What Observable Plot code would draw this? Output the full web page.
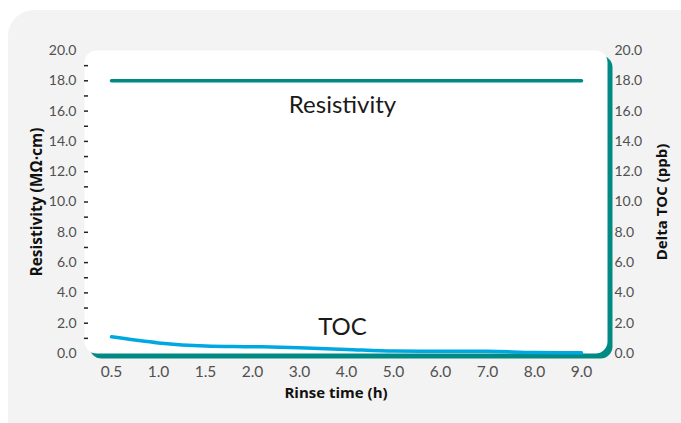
<!DOCTYPE html>
<html>
<head>
<meta charset="utf-8">
<script src="https://cdn.jsdelivr.net/npm/d3@7"></script>
<script src="https://cdn.jsdelivr.net/npm/@observablehq/plot@0.6"></script>
<style>
  html, body { margin: 0; padding: 0; background: #ffffff; }
  #wrap { position: relative; width: 681px; height: 423px; overflow: hidden; }
  #bg { position: absolute; left: 8px; top: 10px; width: 700px; height: 440px; border-radius: 26px; background: #f3f3f3; }
  #chart { position: absolute; left: 0; top: 0; }
</style>
</head>
<body>
<div id="wrap"><div id="bg"></div><div id="chart"></div></div>
<script>
// Data
const times = ["0.5","1.0","1.5","2.0","3.0","4.0","5.0","6.0","7.0","8.0","9.0"];
const resistivity = [18, 18, 18, 18, 18, 18, 18, 18, 18, 18, 18];
const toc = [1.1, 0.7, 0.5, 0.45, 0.38, 0.27, 0.16, 0.15, 0.15, 0.06, 0.05];
const yTicks = [0, 2, 4, 6, 8, 10, 12, 14, 16, 18, 20];
const yMinorTicks = [1, 2, 3, 4, 5, 6, 7, 8, 9, 10, 11, 12, 13, 14, 15, 16, 17, 18, 19];
const seriesLabels = [
  {name: "Resistivity", x: "4.0", y: 16.35},
  {name: "TOC", x: "4.0", y: 1.7}
];
const xTitle = "Rinse time (h)";
const yTitle = "Resistivity (MΩ·cm)";
const y2Title = "Delta TOC (ppb)";

const rows = times.map((t, i) => ({t, r: resistivity[i], c: toc[i]}));

const teal = "#008a83";
const blue = "#00a8e2";
const tickFont = "Lato, 'Open Sans', sans-serif";
const titleFont = "'Open Sans', sans-serif";

const chart = Plot.plot({
  width: 681,
  height: 423,
  marginLeft: 84,
  marginRight: 74,
  marginTop: 50,
  marginBottom: 70,
  style: {background: "transparent", overflow: "visible"},
  x: {type: "point", domain: times, padding: 0.5},
  y: {domain: [0, 20]},
  marks: [
    Plot.frame({fill: teal, stroke: null, rx: 12, dx: 5, dy: 5}),
    Plot.frame({fill: "white", stroke: null, rx: 12}),
    Plot.axisY({anchor: "left", ticks: yMinorTicks, tickSize: 4, dx: 4, tickFormat: () => "", label: null, stroke: "#222", strokeWidth: 1.5}),
    Plot.axisY({anchor: "left", ticks: yTicks, tickSize: 0, tickPadding: 8, tickFormat: d => d.toFixed(1), label: null,
      fontSize: 14, fontFamily: tickFont, fill: "#505050"}),
    Plot.axisY({anchor: "right", ticks: yTicks, tickSize: 0, tickPadding: 7, tickFormat: d => d.toFixed(1), label: null,
      fontSize: 14, fontFamily: tickFont, fill: "#505050"}),
    Plot.axisX({anchor: "bottom", tickSize: 0, tickPadding: 12, label: null,
      fontSize: 15.5, fontFamily: tickFont, fill: "#505050"}),
    Plot.line(rows, {x: "t", y: "r", stroke: teal, strokeWidth: 3.5}),
    Plot.line(rows, {x: "t", y: "c", stroke: blue, strokeWidth: 3.5, curve: "monotone-x"}),
    Plot.text(seriesLabels, {x: "x", y: "y", text: "name", dx: -4, fontSize: 24, fontFamily: tickFont, fill: "#1a1a1a"}),
    Plot.text([yTitle], {frameAnchor: "left", textAnchor: "middle", dx: -47, rotate: -90, fontSize: 15.5, fontWeight: "bold", fontFamily: titleFont, fill: "#111"}),
    Plot.text([y2Title], {frameAnchor: "right", textAnchor: "middle", dx: 55, rotate: -90, fontSize: 15, fontWeight: "bold", fontFamily: titleFont, fill: "#111"}),
    Plot.text([xTitle], {frameAnchor: "bottom", dy: 44, dx: -10, fontSize: 15, fontWeight: "bold", fontFamily: titleFont, fill: "#111"})
  ]
});
document.getElementById("chart").appendChild(chart);
</script>
</body>
</html>
